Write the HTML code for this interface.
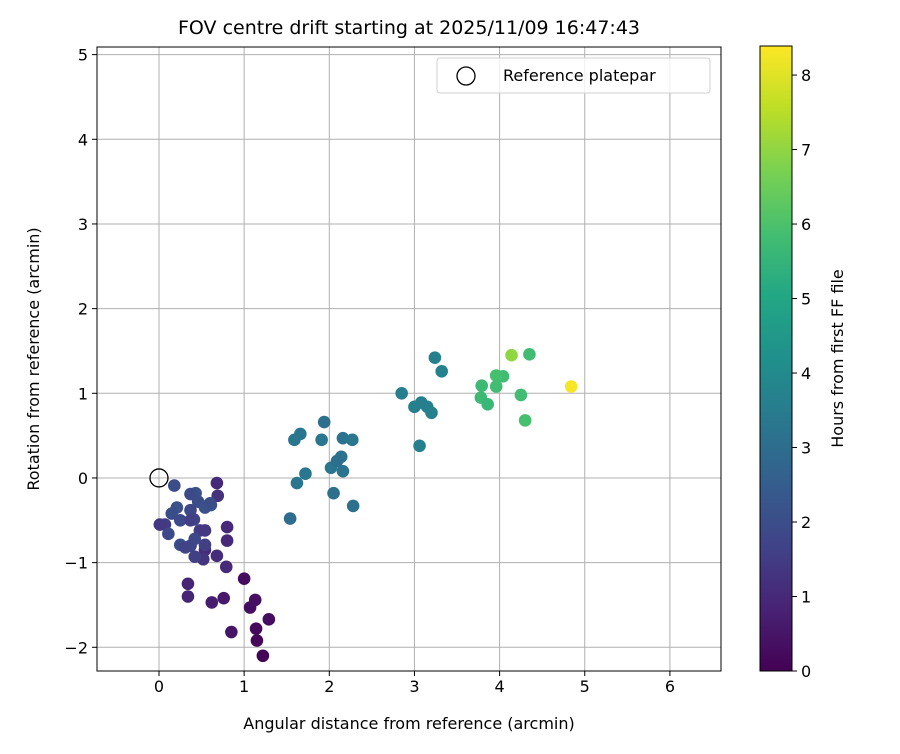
<!DOCTYPE html>
<html><head><meta charset="utf-8"><style>
body{margin:0;background:#fff;font-family:"DejaVu Sans","Liberation Sans",sans-serif}
</style></head><body>
<svg id="c" width="900" height="750" xmlns="http://www.w3.org/2000/svg" font-family="DejaVu Sans, Liberation Sans, sans-serif"></svg>
<script>
const xs=[1.22,1.15,1.14,1.29,1.07,1.13,1.0,0.85,0.76,0.62,0.34,0.34,0.79,0.68,0.80,0.80,0.68,0.69,0.54,0.52,
0.18,0.43,0.37,0.46,0.37,0.41,0.21,0.15,0.07,0.11,0.25,0.37,0.42,0.54,0.48,0.54,0.61,0.25,0.31,0.01,0.42,0.54,0.37,0.60,
1.94,1.66,1.59,1.91,2.16,2.27,2.14,2.02,2.16,2.09,1.72,1.62,2.05,2.28,1.54,
2.85,3.24,3.32,3.0,3.08,3.15,3.20,3.06,
4.14,4.35,4.84,4.04,3.96,3.96,3.79,3.78,3.86,4.25,4.30];
const ys=[-2.10,-1.92,-1.78,-1.67,-1.53,-1.44,-1.19,-1.82,-1.42,-1.47,-1.25,-1.40,-1.05,-0.92,-0.74,-0.58,-0.06,-0.21,-0.85,-0.96,
-0.09,-0.18,-0.19,-0.28,-0.38,-0.49,-0.35,-0.42,-0.55,-0.66,-0.79,-0.80,-0.93,-0.79,-0.62,-0.35,-0.32,-0.50,-0.82,-0.55,-0.72,-0.62,-0.50,-0.30,
0.66,0.52,0.45,0.45,0.47,0.45,0.25,0.12,0.08,0.20,0.05,-0.06,-0.18,-0.33,-0.48,
1.00,1.42,1.26,0.84,0.89,0.84,0.77,0.38,
1.45,1.46,1.08,1.20,1.21,1.08,1.09,0.95,0.87,0.98,0.68];
const hs=[0.1,0.15,0.2,0.3,0.3,0.35,0.3,0.5,0.6,0.7,0.9,0.9,1.0,1.1,1.0,1.0,1.0,1.2,1.1,1.3,
2.0,2.1,1.9,2.0,1.8,1.7,2.1,2.0,1.5,1.9,2.0,1.8,1.6,1.6,1.5,2.1,2.2,1.9,1.7,1.4,1.8,1.4,1.6,2.0,
3.1,3.3,3.3,3.3,3.2,3.3,3.2,3.3,3.2,3.1,3.3,3.3,3.1,3.1,3.0,
3.6,3.6,3.7,3.6,3.6,3.6,3.7,3.6,
7.0,5.8,8.3,5.8,5.9,5.8,5.7,5.7,5.6,5.8,5.9];
const xTicks=[0,1,2,3,4,5,6], yTicks=[-2,-1,0,1,2,3,4,5], cTicks=[0,1,2,3,4,5,6,7,8];
const X0=97,X1=721,Y0=47,Y1=671,xmin=-0.728,xmax=6.6,ymin=-2.28,ymax=5.09;
const sx=v=>X0+(v-xmin)/(xmax-xmin)*(X1-X0), sy=v=>Y1-(v-ymin)/(ymax-ymin)*(Y1-Y0);
const cmin=0,cmax=8.39,CB0=46,CB1=671,scb=v=>CB1-(v-cmin)/(cmax-cmin)*(CB1-CB0);
const vir=[[68,1,84],[72,35,116],[64,67,135],[52,94,141],[41,120,142],[32,144,140],[34,167,132],[68,190,112],[121,209,81],[189,222,38],[253,231,37]];
function col(h){let t=Math.max(0,Math.min(1,(h-cmin)/(cmax-cmin)))*10,i=Math.min(9,Math.floor(t)),f=t-i,a=vir[i],b=vir[i+1];
return `rgb(${a.map((v,k)=>Math.round(v+(b[k]-v)*f)).join(',')})`;}
const svg=document.getElementById('c');const NS='http://www.w3.org/2000/svg';
function el(t,a,p){const e=document.createElementNS(NS,t);for(const k in a)e.setAttribute(k,a[k]);(p||svg).appendChild(e);return e;}
xTicks.forEach(v=>{const g=el('line',{x1:sx(v),x2:sx(v),y1:Y0,y2:Y1,stroke:'#b0b0b0','stroke-width':1});

});
yTicks.forEach(v=>{const g=el('line',{x1:X0,x2:X1,y1:sy(v),y2:sy(v),stroke:'#b0b0b0','stroke-width':1});

});
xs.forEach((x,i)=>{const c=el('circle',{cx:sx(x),cy:sy(ys[i]),r:6.3,fill:col(hs[i])});

});
const ref=el('circle',{cx:sx(0),cy:sy(0),r:9,fill:'none',stroke:'#000','stroke-width':1.3});


const fr=el('rect',{x:X0,y:Y0,width:X1-X0,height:Y1-Y0,fill:'none',stroke:'#000','stroke-width':1});


xTicks.forEach(v=>{el('line',{x1:sx(v),x2:sx(v),y1:Y1,y2:Y1+5,stroke:'#000'});
const t=el('text',{x:sx(v),y:Y1+21,'text-anchor':'middle','font-size':16});t.textContent=v<0?'−'+(-v):v;

});
yTicks.forEach(v=>{el('line',{x1:X0-5,x2:X0,y1:sy(v),y2:sy(v),stroke:'#000'});
const t=el('text',{x:X0-9,y:sy(v)+6,'text-anchor':'end','font-size':16});t.textContent=v<0?'−'+(-v):v;

});
const lg=el('rect',{x:437,y:58,width:273,height:35,rx:3,fill:'#fff','fill-opacity':0.8,stroke:'#d0d0d0'});


el('circle',{cx:466,cy:76,r:9,fill:'none',stroke:'#000','stroke-width':1.3});
const lt=el('text',{x:503,y:81,'font-size':16});lt.textContent='Reference platepar';


const tt=el('text',{x:409,y:34,'text-anchor':'middle','font-size':19});tt.textContent='FOV centre drift starting at 2025/11/09 16:47:43';


const xt=el('text',{x:409,y:729,'text-anchor':'middle','font-size':16});xt.textContent='Angular distance from reference (arcmin)';


const yt=el('text',{x:0,y:0,'text-anchor':'middle','font-size':16,transform:`translate(39,${(Y0+Y1)/2}) rotate(-90)`});yt.textContent='Rotation from reference (arcmin)';


const defs=el('defs',{});const gr=el('linearGradient',{id:'vg',x1:0,y1:1,x2:0,y2:0},defs);
vir.forEach((c,i)=>el('stop',{offset:i/10,'stop-color':`rgb(${c.join(',')})`},gr));
const cb=el('rect',{x:760,y:CB0,width:32,height:CB1-CB0,fill:'url(#vg)',stroke:'#000','stroke-width':1});


cTicks.forEach(v=>{el('line',{x1:792,x2:797,y1:scb(v),y2:scb(v),stroke:'#000'});
const t=el('text',{x:801,y:scb(v)+6,'font-size':16});t.textContent=v;

});
const ct=el('text',{x:0,y:0,'text-anchor':'middle','font-size':16,transform:`translate(843,${(CB0+CB1)/2}) rotate(-90)`});ct.textContent='Hours from first FF file';


</script>
</body></html>
